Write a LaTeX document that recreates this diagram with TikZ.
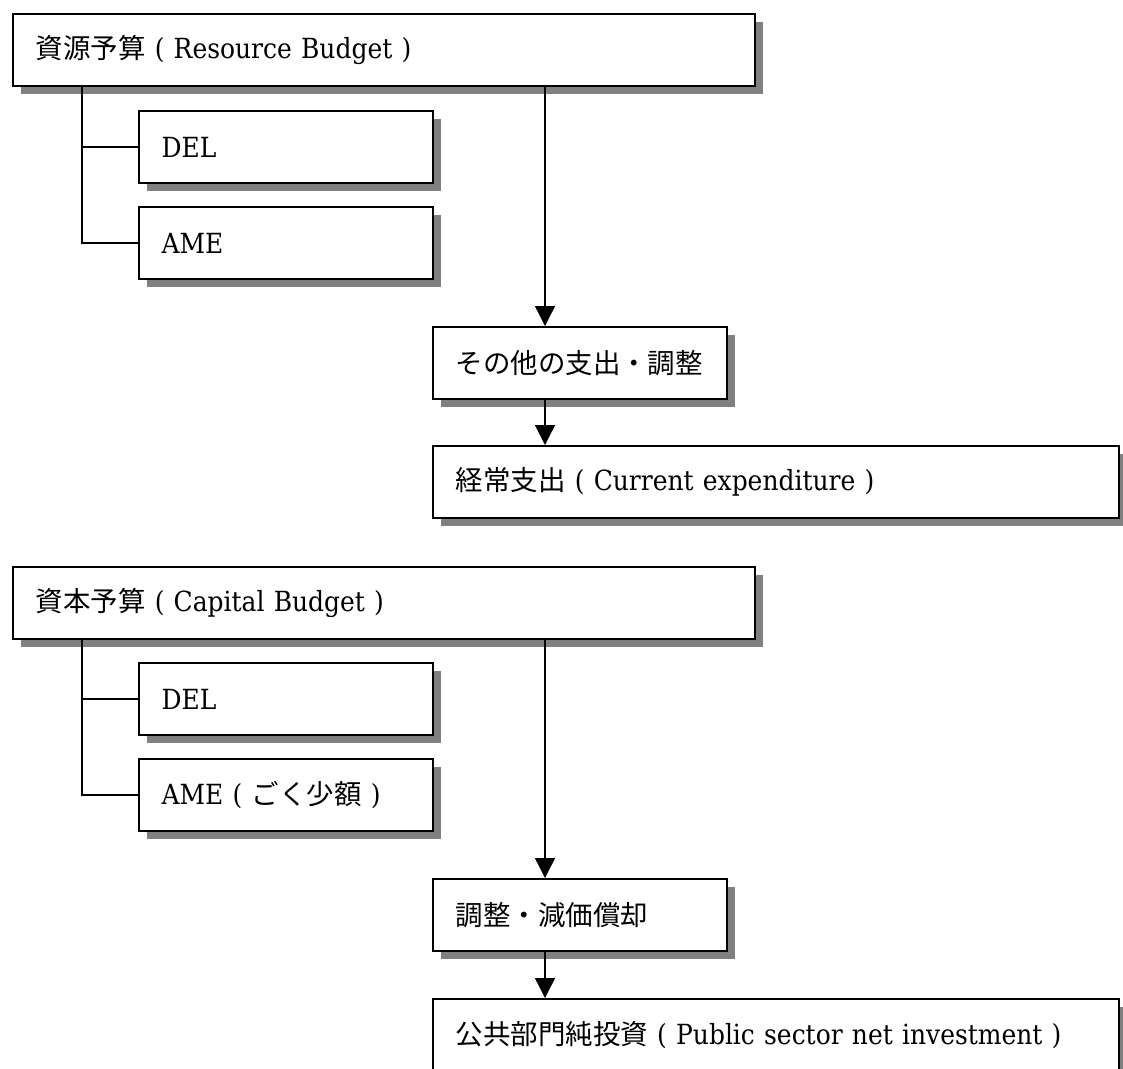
\documentclass[tikz,border=0pt]{standalone}
\usepackage{fontspec}
\setmainfont{DejaVu Serif}[Scale=1.04, FakeStretch=0.9]
\newfontfamily\jpfont{Noto Sans CJK JP}[Scale=1.03]
\usepackage{tikz}
\usetikzlibrary{arrows.meta, shadows}
\tikzset{
    % white box with a hard grey shadow, text flush left
    blk/.style={draw, line width=1.5pt, fill=white, anchor=north west,
        align=left, inner xsep=17pt, minimum height=54pt, text width=#1,
        general shadow={fill=black!50, shadow xshift=6pt, shadow yshift=-6pt}},
    % tree lines from a budget box to its parts
    link/.style={line width=1pt},
    % downward flow arrows
    flow/.style={-{Triangle[width=15pt, length=15pt]}, line width=1pt},
}
\newcommand{\ja}[1]{{\jpfont #1}}

\begin{document}
\begin{tikzpicture}[x=0.75pt, y=-0.75pt, font=\fontsize{20}{24}\selectfont]
    \clip (0,0) rectangle (1123,1068);
    \useasboundingbox (0,0) rectangle (1123,1068);

    % --- resource budget ---
    \node[blk=522.5pt] (res)  at (12, 13)   {\ja{資源予算} ( Resource Budget )};
    \node[blk=186.5pt] (del1) at (138, 110) {DEL};
    \node[blk=186.5pt] (ame1) at (138, 206) {AME};
    \node[blk=186.5pt] (oth)  at (432, 326) {\ja{その他の支出・調整}};
    \node[blk=480.5pt] (cur)  at (432, 445) {\ja{経常支出} ( Current expenditure )};

    % --- capital budget ---
    \node[blk=522.5pt] (cap)  at (12, 566)  {\ja{資本予算} ( Capital Budget )};
    \node[blk=186.5pt] (del2) at (138, 662) {DEL};
    \node[blk=186.5pt] (ame2) at (138, 758) {AME ( \ja{ごく少額} )};
    \node[blk=186.5pt] (adj)  at (432, 878) {\ja{調整・減価償却}};
    \node[blk=480.5pt] (psn)  at (432, 998) {\ja{公共部門純投資} ( Public sector net investment )};

    % tree taps and arrow columns
    \coordinate (rtap) at (82, 86);
    \coordinate (ctap) at (82, 638);
    \coordinate (rcol) at (545, 0);

    \foreach \b in {del1,ame1}{
        \draw[link] (rtap) |- (\b.west);
    }
    \foreach \b in {del2,ame2}{
        \draw[link] (ctap) |- (\b.west);
    }

    % flow down to the totals
    \draw[flow] (res.south -| rcol) -- (oth.north -| rcol);
    \draw[flow] (oth.south -| rcol) -- (cur.north -| rcol);
    \draw[flow] (cap.south -| rcol) -- (adj.north -| rcol);
    \draw[flow] (adj.south -| rcol) -- (psn.north -| rcol);

\end{tikzpicture}
\end{document}
